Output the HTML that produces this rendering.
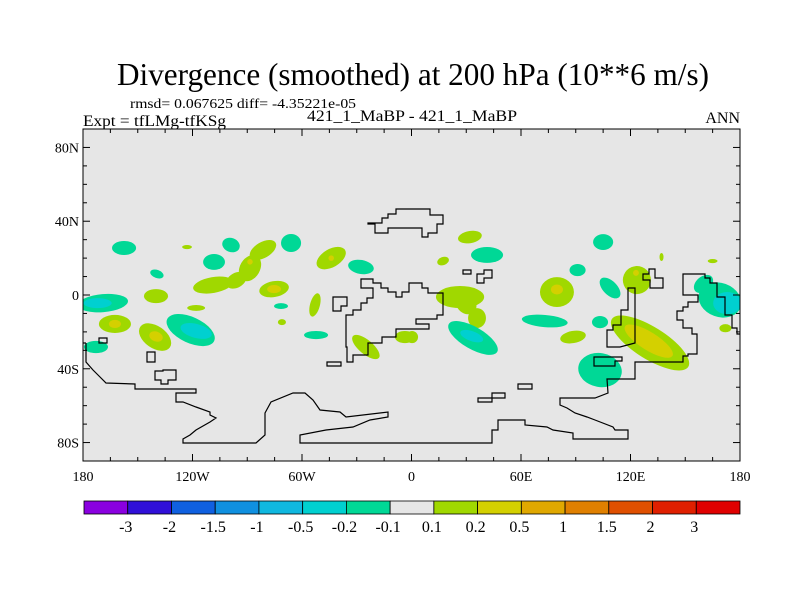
<!DOCTYPE html>
<html><head><meta charset="utf-8"><style>
html,body{margin:0;padding:0;background:#fff;width:800px;height:600px;overflow:hidden}
svg{display:block;font-family:"Liberation Serif",serif}
</style></head><body>
<svg id="chart" width="800" height="600" viewBox="0 0 800 600" xmlns="http://www.w3.org/2000/svg">
<text x="413" y="85" text-anchor="middle" font-size="32" textLength="592" lengthAdjust="spacingAndGlyphs">Divergence (smoothed) at 200 hPa (10**6 m/s)</text>
<text x="130" y="108" font-size="14" textLength="226" lengthAdjust="spacingAndGlyphs">rmsd= 0.067625 diff= -4.35221e-05</text>
<text x="83" y="126" font-size="16" textLength="143" lengthAdjust="spacingAndGlyphs">Expt = tfLMg-tfKSg</text>
<text x="412" y="121" font-size="16" text-anchor="middle" textLength="210" lengthAdjust="spacingAndGlyphs">421_1_MaBP - 421_1_MaBP</text>
<text x="740" y="123" font-size="16" text-anchor="end">ANN</text>
<g id="plot"></g>
<g id="cbar"></g>
</svg>
<script>
// ---- data ----
const blobLon = [-157.5,-98.9,-108.2,-66,-139.5,-123,-108.8,-88.5,-81.4,-88.5,-140,-44,-44,-27.7,-75.3,-75.3,-71.5,-71,-52.9,-118,-169,-172,-162.5,-162.5,-140.5,-140,-121,-118,-172.9,-52.3,-25,-3.6,32,41.4,17.3,26.6,35.9,33.7,33,0.3,73,88.5,79.7,79.7,91,105,108.8,103.3,123.5,123,103.3,130.7,130,169,173,137,165,172,-96,30,160];
const blobLat = [25.5,27.1,17.9,28.2,11.4,26,5.4,14.6,24.4,18,-0.6,20,20,15.2,3.2,3.2,-6,-14.7,-5.4,-7,-4.4,-4.4,-15.7,-15.7,-22.8,-22.5,-19,-19.5,-28.2,-21.7,-28.2,-22.8,31.4,21.7,18.4,-1.1,-12.5,-23.3,-22.3,-22.8,-14.1,-22.8,1.6,3,13.5,28.7,3.8,-14.7,8.1,12,-40.7,-26,-25,-2.7,-4.4,20.6,18.4,-18,8,-5,6];
const blobVal = [-0.15,-0.15,-0.15,-0.15,-0.15,0.15,0.15,0.15,0.15,0.3,0.15,0.15,0.3,-0.15,0.15,0.3,-0.15,0.15,0.15,0.15,-0.15,-0.3,0.15,0.3,0.15,0.3,-0.15,-0.3,-0.15,-0.15,0.15,0.15,0.15,-0.15,0.15,0.15,0.15,-0.15,-0.3,0.15,-0.15,0.15,0.15,0.3,-0.15,-0.15,-0.15,-0.15,0.15,0.3,-0.15,0.15,0.3,-0.15,-0.3,0.15,0.15,0.15,0.15,0.15,-0.15];
const blobRx = [6.6,4.9,6,5.5,3.8,2.7,11,5.5,8,1.5,6.6,8.8,1.5,7.1,8.2,3.8,3.8,2.2,2.7,4.9,13.7,7.7,8.8,3.3,9.9,3.8,14.2,8.8,6.6,6.6,9.3,5.5,6.6,8.8,3.3,13.2,4.9,15.3,6.6,3.3,12.6,7.1,9.3,3.3,4.4,5.5,7.1,4.4,7.7,1.6,12,24.7,15.3,12,7.7,1.1,2.7,3.3,6,6,6];
const blobRy = [3.8,3.8,4.3,4.9,2.2,1.1,4.3,7.6,4.3,1.5,3.8,4.9,1.5,3.8,4.3,2.2,1.6,1.6,6.5,1.6,4.9,2.7,4.9,2.2,6,2.7,7,3.8,3.3,2.2,3.8,3.3,3.3,4.3,2.2,6,5.4,6,2.7,3.3,3.3,3.3,8.1,2.7,3.3,4.3,3.8,3.3,7.6,1.6,9.2,8.7,4.9,9.2,6,2.2,1.1,2.2,4,5,4];
const blobRot = [0,20,0,0,20,0,-10,30,-30,0,0,-30,0,10,-10,0,0,0,15,0,-5,0,0,0,35,20,25,15,0,0,40,0,-10,0,-20,0,0,30,20,0,5,-10,0,0,0,0,45,0,0,0,10,32,32,20,0,0,0,0,-30,40,-40];
const levels = [-3,-2,-1.5,-1,-0.5,-0.2,-0.1,0.1,0.2,0.5,1,1.5,2,3];
const levelColors = ["#8a00e0","#3010d8","#1060e0","#1090e0","#10b8e0","#00d0d0","#00d896","#e6e6e6","#a0d800","#d4d000","#e0a800","#e08000","#e05000","#e02000","#e00000"];
const lonTickLabels = ["180","120W","60W","0","60E","120E","180"];
const lonTickValues = [-180,-120,-60,0,60,120,180];
const latTickLabels = ["80N","40N","0","40S","80S"];
const latTickValues = [80,40,0,-40,-80];

// ---- axes ----
const X0=83,X1=740,Y0=129,Y1=461;
const xs = lon => X0 + (lon+180)/360*(X1-X0);
const ys = lat => Y0 + (90-lat)/180*(Y1-Y0);
const NS="http://www.w3.org/2000/svg";
function mk(tag,attrs,parent){const e=document.createElementNS(NS,tag);for(const k in attrs)e.setAttribute(k,attrs[k]);parent.appendChild(e);return e;}
function colorFor(v){let i=0;while(i<levels.length&&v>=levels[i])i++;return levelColors[i];}

const plot=document.getElementById('plot');
const defs=mk('defs',{},plot);
const cp=mk('clipPath',{id:'clip'},defs);
mk('rect',{x:X0,y:Y0,width:X1-X0,height:Y1-Y0},cp);
const bg=mk('rect',{x:X0,y:Y0,width:X1-X0,height:Y1-Y0,fill:'#e6e6e6'},plot);


const cg=mk('g',{'clip-path':'url(#clip)'},plot);


const order=blobVal.map((v,i)=>i).sort((a,b)=>Math.abs(blobVal[a])-Math.abs(blobVal[b]));
order.forEach(i=>{
  const cx=xs(blobLon[i]),cy=ys(blobLat[i]);
  const rx=blobRx[i]*(X1-X0)/360, ry=blobRy[i]*(Y1-Y0)/180;
  const e=mk('ellipse',{cx:cx,cy:cy,rx:rx,ry:ry,fill:colorFor(blobVal[i]),transform:`rotate(${blobRot[i]} ${cx} ${cy})`},cg);
  
  
});
const coast=[
 "M86,343 L86,362 L93,370 L100,377 L106,383 L135,384 L135,389 L196,389 L196,393 L176,393 L176,402 L183,402 L196,407 L210,412 L210,415 L216,418 L210,422 L196,430 L190,435 L183,439 L183,443 L256,443 L265,435 L265,413 L271,402 L293,393 L305,393 L313,400 L320,410 L340,412 L346,417 L388,412 L388,417 L370,420 L353,427 L326,430 L300,435 L300,443 L492,443 L492,430 L498,430 L498,420 L525,420 L525,425 L547,427 L553,430 L573,433 L573,439 L628,439 L628,430 L615,430 L613,427 L595,420 L587,417 L575,413 L567,408 L560,405 L560,398 L595,398 L608,393 L607,379 L635,379 L635,362 L683,362 L683,356 L688,356 L688,354 L697,354 L697,334 L692,334 L692,328 L683,328 L683,320 L677,320 L677,311 L683,311 L683,307 L688,307 L688,302 L698,302 L698,295 L683,295 L683,274 L705,274 L705,278 L710,278 L710,283 L717,283 L717,297 L725,297 L725,315 L732,315 L732,328 L737,328 L737,334 L742,334",
 "M83,343 L86,343",
 "M368,224 L375,224 L375,233 L388,233 L388,228 L422,228 L422,237 L428,237 L428,233 L437,233 L437,224 L443,224 L443,215 L430,215 L430,209 L396,209 L396,214 L388,214 L388,218 L382,218 L382,223 L368,223 Z",
 "M361,279 L373,279 L373,283 L381,283 L381,288 L388,288 L388,292 L396,292 L396,297 L402,297 L402,292 L409,292 L409,283 L422,283 L422,288 L428,288 L428,293 L443,293 L443,315 L437,315 L437,319 L416,319 L416,324 L429,324 L429,329 L396,329 L396,337 L382,337 L382,343 L368,343 L368,355 L353,355 L353,362 L347,362 L347,347 L346,347 L346,315 L353,315 L353,310 L361,310 L361,303 L367,303 L367,298 L373,298 L373,288 L361,288 Z",
 "M333,297 L347,297 L347,306 L341,306 L341,311 L333,311 Z",
 "M327,362 L341,362 L341,366 L327,366 Z",
 "M99,338 L107,338 L107,343 L99,343 Z",
 "M147,352 L155,352 L155,362 L147,362 Z",
 "M155,371 L163,371 L163,370 L176,370 L176,380 L168,380 L168,384 L161,384 L161,380 L155,380 Z",
 "M463,270 L471,270 L471,274 L463,274 Z",
 "M477,274 L484,274 L484,270 L492,270 L492,278 L484,278 L484,283 L477,283 Z",
 "M518,384 L532,384 L532,389 L518,389 Z",
 "M478,398 L492,398 L492,393 L505,393 L505,398 L492,398 L492,402 L478,402 Z",
 "M628,288 L635,288 L635,343 L620,347 L607,347 L607,330 L613,330 L613,325 L621,325 L621,310 L628,310 Z",
 "M594,357 L622,357 L622,361 L615,361 L615,366 L594,366 Z",
 "M643,274 L649,274 L649,269 L655,269 L655,278 L663,278 L663,288 L650,288 L650,280 L643,280 Z"
];
const coastG=mk('g',{'clip-path':'url(#clip)'},plot);


coast.forEach(d=>{const p=mk('path',{d:d,fill:'none',stroke:'#000','stroke-width':1.2},coastG);
 
 });
const frame=mk('rect',{x:X0,y:Y0,width:X1-X0,height:Y1-Y0,fill:'none',stroke:'#000','stroke-width':1},plot);


const tg=mk('g',{stroke:'#000','stroke-width':1},plot);


for(let lon=-180;lon<=180;lon+=15){const x=xs(lon),L=(lon%60===0)?7:4;
 mk('line',{x1:x,y1:Y1,x2:x,y2:Y1-L},tg);mk('line',{x1:x,y1:Y0,x2:x,y2:Y0+L},tg);}
for(let lat=-90;lat<=90;lat+=10){const y=ys(lat),L=(lat%40===0)?7:4;
 mk('line',{x1:X0,y1:y,x2:X0+L,y2:y},tg);mk('line',{x1:X1,y1:y,x2:X1-L,y2:y},tg);}
lonTickLabels.forEach((t,i)=>{const e=mk('text',{x:xs(lonTickValues[i]),y:Y1+20,'text-anchor':'middle','font-size':14},plot);e.textContent=t;
 
 });
latTickLabels.forEach((t,i)=>{const e=mk('text',{x:X0-4,y:ys(latTickValues[i])+5,'text-anchor':'end','font-size':14},plot);e.textContent=t;
 
 });
const cb=document.getElementById('cbar');
const CB0=84,CB1=740,CBY=501,CBH=13,bw=(CB1-CB0)/levelColors.length;
levelColors.forEach((c,i)=>{const r=mk('rect',{x:CB0+i*bw,y:CBY,width:bw,height:CBH,fill:c,stroke:'#000','stroke-width':0.8},cb);
 
 });
levels.forEach((v,i)=>{const e=mk('text',{x:CB0+(i+1)*bw-2,y:532,'text-anchor':'middle','font-size':16},cb);e.textContent=String(v);
 
 });
</script>
</body></html>
